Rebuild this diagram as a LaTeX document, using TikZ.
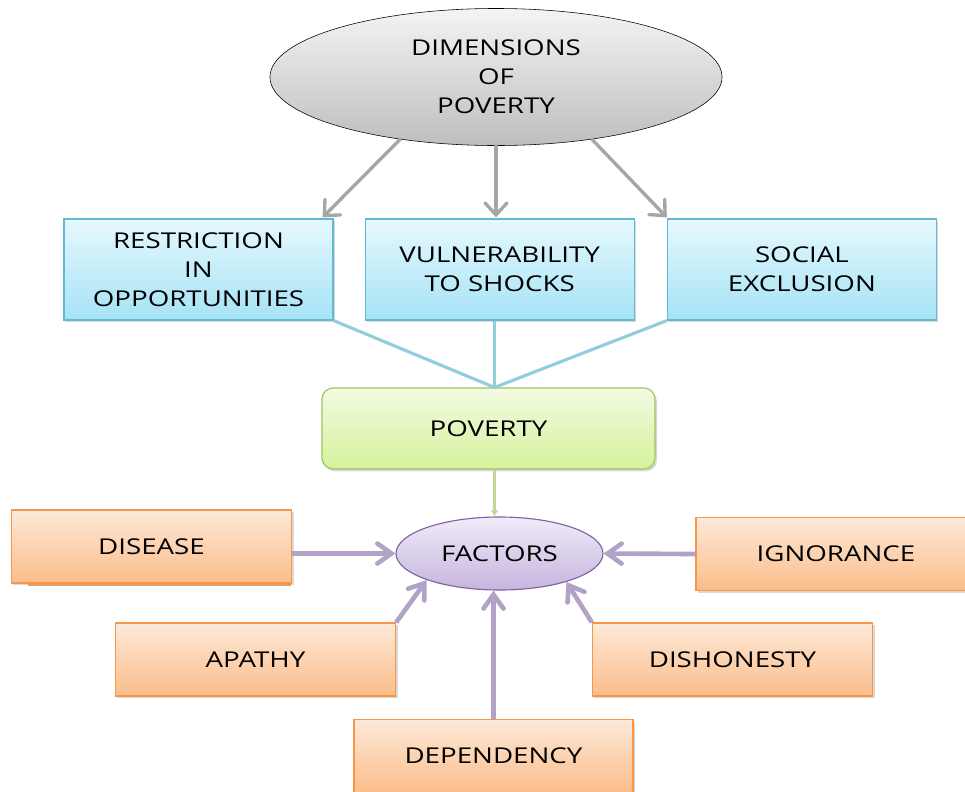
\documentclass[tikz,border=0pt]{standalone}
\usepackage{fontspec}
\setmainfont{Open Sans}[FakeStretch=1.27]
\usetikzlibrary{arrows.meta,positioning,calc,shapes.geometric,shadows}
\definecolor{DimTop}{HTML}{F4F4F4}
\definecolor{DimBottom}{HTML}{BEBEBE}
\definecolor{DimLine}{HTML}{A6A6A6}
\definecolor{BlueTop}{HTML}{E6F8FD}
\definecolor{BlueBottom}{HTML}{A5E3F6}
\definecolor{BlueBorder}{HTML}{62BAD2}
\definecolor{BlueLine}{HTML}{92CDDC}
\definecolor{GreenTop}{HTML}{F3FBE3}
\definecolor{GreenBottom}{HTML}{D5F29C}
\definecolor{GreenBorder}{HTML}{A2C25F}
\definecolor{GreenLine}{HTML}{C3D69B}
\definecolor{FacTop}{HTML}{F0EBF8}
\definecolor{FacBottom}{HTML}{C6B5DF}
\definecolor{FacBorder}{HTML}{7F63A1}
\definecolor{FacLine}{HTML}{B3A2C7}
\definecolor{CauseTop}{HTML}{FDE9D9}
\definecolor{CauseBottom}{HTML}{FBBD8A}
\definecolor{CauseBorder}{HTML}{F79646}

\begin{document}
\begin{tikzpicture}[x=0.025cm, y=-0.025cm,
  font=\fontsize{15.5}{20.6}\selectfont,
  boxshadow/.style={drop shadow={opacity=0.3, shadow xshift=0.5mm, shadow yshift=-0.6mm}},
  dimnode/.style={ellipse, draw=black, thin, top color=DimTop, bottom color=DimBottom,
    minimum width=11.3cm, minimum height=3.425cm, inner sep=0pt, align=center},
  dimbox/.style={draw=BlueBorder, thick, top color=BlueTop, bottom color=BlueBottom, boxshadow,
    minimum width=6.725cm, minimum height=2.525cm, inner sep=0pt, align=center},
  povbox/.style={draw=GreenBorder, thick, top color=GreenTop, bottom color=GreenBottom, boxshadow,
    rounded corners=8pt, minimum width=8.325cm, minimum height=2.025cm, inner sep=0pt},
  facnode/.style={ellipse, draw=FacBorder, thick, top color=FacTop, bottom color=FacBottom,
    minimum width=5.175cm, minimum height=1.825cm, inner sep=0pt},
  causebox/.style={draw=CauseBorder, thick, top color=CauseTop, bottom color=CauseBottom, boxshadow,
    minimum width=7cm, minimum height=1.825cm, inner sep=0pt},
  dimarrow/.style={DimLine, line width=2.4pt, line cap=round,
    -{Straight Barb[length=3mm, width=5.5mm, line cap=round]}},
  linkline/.style={BlueLine, line width=2.2pt},
  povline/.style={GreenLine, line width=2.2pt, -{Latex[length=1.5mm, width=2mm]}},
  facarrow/.style={FacLine, line width=3.3pt,
    -{Straight Barb[length=3.5mm, width=5mm, line cap=round]}}]
  \useasboundingbox (0,0) rectangle (965,791);

  \node[dimnode] (dim) at (496,77) {DIMENSIONS\\OF\\POVERTY};
  \node[dimbox] (restr) at (198.5,269.5) {RESTRICTION\\IN\\OPPORTUNITIES};
  \node[dimbox, right=7.75mm of restr] (vuln) {VULNERABILITY\\TO SHOCKS};
  \node[dimbox, right=8mm of vuln] (soc) {SOCIAL\\EXCLUSION};
  \node[povbox] (pov) at (488.5,428.5) {POVERTY};
  \coordinate (meet) at ($(pov.north)+(6,0)$);
  \node[facnode] (fac) at (499.5,553.5) {FACTORS};

  \draw[draw=CauseBorder, fill=CauseBottom!80!CauseBorder] (28,516) rectangle (290,585);
  \node[causebox] (dis) at (151.5,546.5) {DISEASE};
  \node[causebox] (ign) at (836,554) {IGNORANCE};
  \node[causebox] (apa) at (255.5,659.5) {APATHY};
  \node[causebox] (dish) at (732.5,659.5) {DISHONESTY};
  \node[causebox, minimum width=6.975cm] (dep) at (493.5,756) {DEPENDENCY};

  \draw[dimarrow] (dim.213) -- ($(restr.north east)+(-11,-1)$);
  \draw[dimarrow] (dim.south) -- ($(dim.south |- vuln.north)+(0,-1)$);
  \draw[dimarrow] (dim.327) -- ($(soc.north west)+(0,-1)$);

  \draw[linkline] (restr.south east) -- (meet);
  \draw[linkline] (vuln.south -| meet) -- (meet);
  \draw[linkline] (soc.south west) -- (meet);
  \draw[povline] (meet |- pov.south) -- (meet |- fac.north);

  \draw[facarrow] (fac.west -| dis.east) -- (fac.west);
  \draw[facarrow] (ign.west) -- (fac.east);
  \draw[facarrow] (apa.north east) -- (fac.200);
  \draw[facarrow] (dish.north west) -- (fac.337);
  \draw[facarrow] (dep.north) -- (dep.north |- fac.south);
\end{tikzpicture}
\end{document}
